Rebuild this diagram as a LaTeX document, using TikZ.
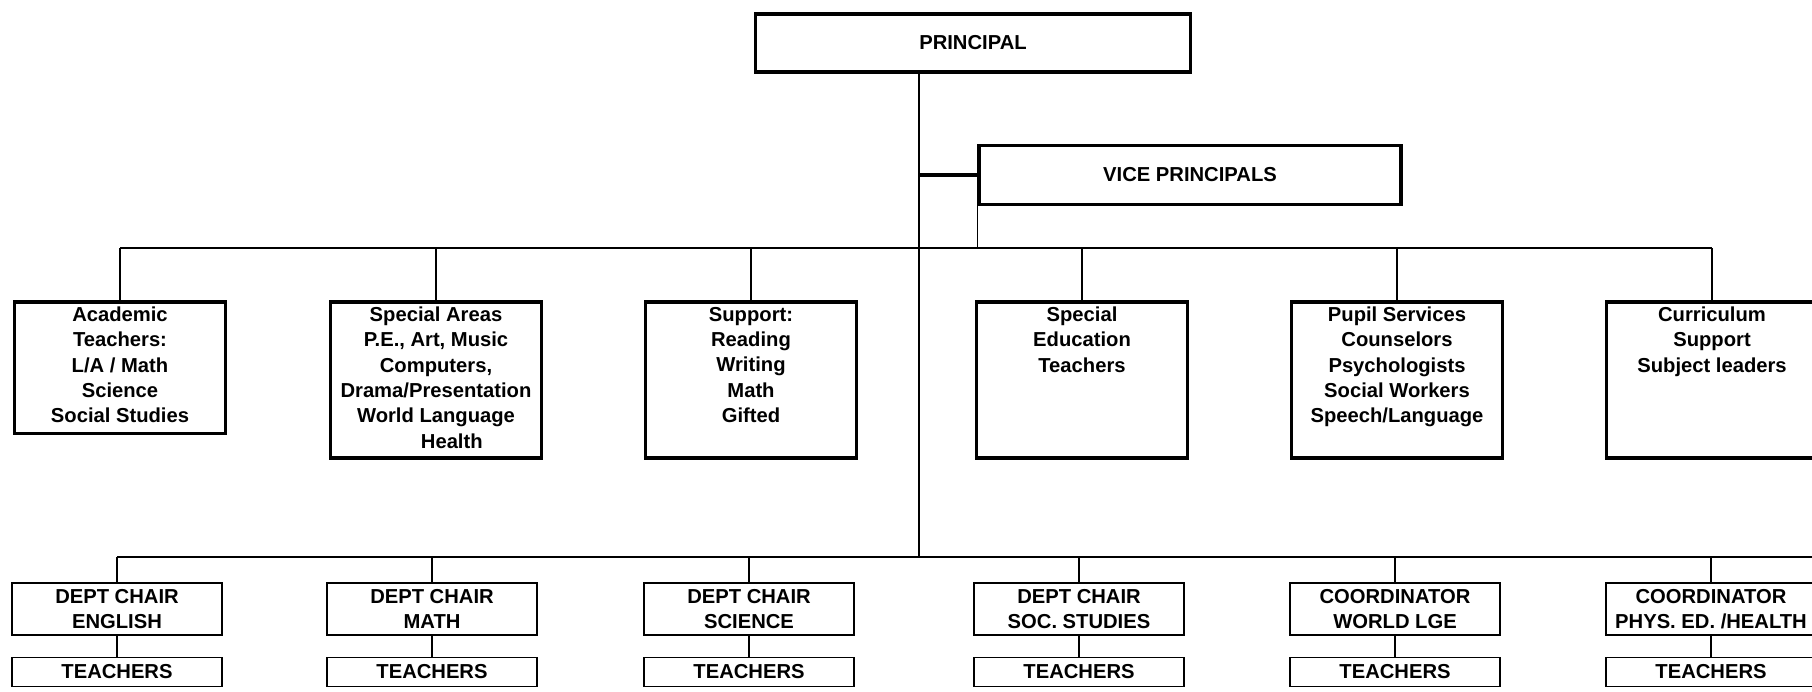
\documentclass[tikz,border=0pt]{standalone}
\usepackage{fontspec}
\setmainfont{Liberation Sans}
\usetikzlibrary{calc}
\newcommand{\cellbox}[2]{\parbox[c][#1][t]{4cm}{\centering #2}}

\begin{document}
\begin{tikzpicture}[x=0.02cm, y=-0.02cm,
	every node/.style={font=\bfseries\fontsize{11.5}{14.4}\selectfont},
	head/.style={draw, line width=2pt, fill=white, inner sep=0pt},
	area/.style={draw, line width=2pt, fill=white, anchor=north, minimum width=4.22cm, inner xsep=0pt, inner ysep=3pt},
	chair/.style={draw, line width=1pt, fill=white, align=center, minimum width=4.2cm, minimum height=1.04cm, inner sep=0pt},
	staff/.style={draw, line width=1pt, fill=white, minimum width=4.2cm, minimum height=0.58cm, inner sep=0pt},
	link/.style={line width=0.8pt}]
	\useasboundingbox (0,0) rectangle (1812,691);
	\coordinate (bus) at (0,248);
	\coordinate (trunk) at (919,557);
	\coordinate (busend) at (1820,557);

	\node[head, minimum width=8.7cm, minimum height=1.16cm] (prin) at (973,43) {PRINCIPAL};
	\node[head, minimum width=8.44cm, minimum height=1.18cm] (vp) at (1190,175) {VICE PRINCIPALS};

	\node[area] (acad) at (120,300) {\cellbox{69pt}{Academic\\Teachers:\\L/A / Math\\Science\\Social Studies}};
	\node[area] (spec) at (436,300) {\cellbox{83pt}{Special Areas\\P.E., Art, Music\\Computers,\\Drama/Presentation\\World Language\\\hspace*{18pt}Health}};
	\node[area] (supp) at (751,300) {\cellbox{83pt}{Support:\\Reading\\Writing\\Math\\Gifted}};
	\node[area] (sped) at (1082,300) {\cellbox{83pt}{Special\\Education\\Teachers}};
	\node[area] (pupil) at (1397,300) {\cellbox{83pt}{Pupil Services\\Counselors\\Psychologists\\Social Workers\\Speech/Language}};
	\node[area] (curr) at (1712,300) {\cellbox{83pt}{Curriculum\\Support\\Subject leaders}};

	\node[chair] (ch1) at (117,609) {DEPT CHAIR\\ENGLISH};
	\node[chair] (ch2) at (432,609) {DEPT CHAIR\\MATH};
	\node[chair] (ch3) at (749,609) {DEPT CHAIR\\SCIENCE};
	\node[chair] (ch4) at (1079,609) {DEPT CHAIR\\SOC. STUDIES};
	\node[chair] (ch5) at (1395,609) {COORDINATOR\\WORLD LGE};
	\node[chair] (ch6) at (1711,609) {COORDINATOR\\PHYS. ED. /HEALTH};

	\foreach \i/\x in {1/117,2/432,3/749,4/1079,5/1395,6/1711}
		\node[staff] (tc\i) at (\x,672) {TEACHERS};

	\draw[link] (prin.south -| trunk) -- (trunk);
	\draw[line width=2pt] (vp.west -| trunk) -- (vp.west);
	\draw[link] (vp.south west) -- (vp.south west |- bus);
	\draw[link] (acad.north |- bus) -- (curr.north |- bus);
	\foreach \n in {acad,spec,supp,sped,pupil,curr}
		\draw[link] (\n.north |- bus) -- (\n.north);
	\draw[link] (ch1.north |- trunk) -- (busend);
	\foreach \i in {1,...,6} {
		\draw[link] (ch\i.north |- trunk) -- (ch\i.north);
		\draw[link] (ch\i.south) -- (tc\i.north);
	}
\end{tikzpicture}
\end{document}
